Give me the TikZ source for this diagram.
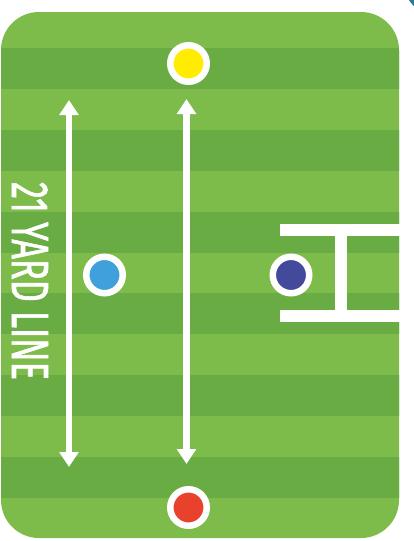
\documentclass[tikz,border=0pt]{standalone}
\usepackage{fontspec}
\newfontfamily\yardfont{Fira Sans}[FakeBold=1.5]
\usetikzlibrary{arrows.meta}
\definecolor{lightgrass}{HTML}{7DBB4A}
\definecolor{darkgrass}{HTML}{69AC43}
\definecolor{teal}{HTML}{2A7A95}
\definecolor{dotyellow}{HTML}{FFEC00}
\definecolor{dotred}{HTML}{E8412C}
\definecolor{dotblue}{HTML}{3FA0DB}
\definecolor{dotnavy}{HTML}{434A9C}
\tikzset{
  player/.style={circle, draw=white, line width=6.5pt, minimum size=36.5pt, inner sep=0pt},
  postbar/.style={fill=white, draw=none},
  runline/.style={draw=white, line width=6.3pt, -{Triangle[width=18.6pt,length=15pt]}, shorten >=0pt},
  yardtext/.style={text=white, inner sep=0pt, rotate=-90, font=\yardfont}
}
\begin{document}
\begin{tikzpicture}[x=1pt,y=-1pt]
\useasboundingbox (0,0) rectangle (414,541);
\fill[white] (0,0) rectangle (414,541);
% teal fragment
\begin{scope}
\clip (0,0) rectangle (414,541);
\fill[teal] (440,-20) circle (36.9);
\end{scope}
% field
\begin{scope}
\clip[rounded corners=38pt] (1,12) rectangle (399,538);
\fill[lightgrass] (0,0) rectangle (414,541);
\foreach \k in {0,...,5}{
  \fill[darkgrass] (0,{48.3+2*\k*40.85}) rectangle (414,{48.3+(2*\k+1)*40.85});
}
\end{scope}
% goal posts
\fill[postbar] (280,224) rectangle (400,236);
\fill[postbar] (280,310) rectangle (400,322);
\fill[postbar] (335,236) rectangle (347.3,310);
% arrows
\coordinate (la) at (69,190);
\coordinate (lt) at (69,100);
\coordinate (lb) at (69,467);
\coordinate (ra) at (186.5,190);
\coordinate (rt) at (186.5,99);
\coordinate (rb) at (186.5,464);
\draw[runline] (la) -- (lt);
\draw[runline] (la) -- (lb);
\draw[runline] (ra) -- (rt);
\draw[runline] (ra) -- (rb);
% players
\node[player, fill=dotyellow] (yellow) at (188.5,63.5) {};
\node[player, fill=dotred] (red) at (188.5,507.5) {};
\node[player, fill=dotblue] (blue) at (104.5,275) {};
\node[player, fill=dotnavy] (navy) at (291,275) {};
% text
\node[yardtext] (label) at (30,281) {\resizebox{198pt}{36pt}{21 YARD LINE}};
\end{tikzpicture}
\end{document}
